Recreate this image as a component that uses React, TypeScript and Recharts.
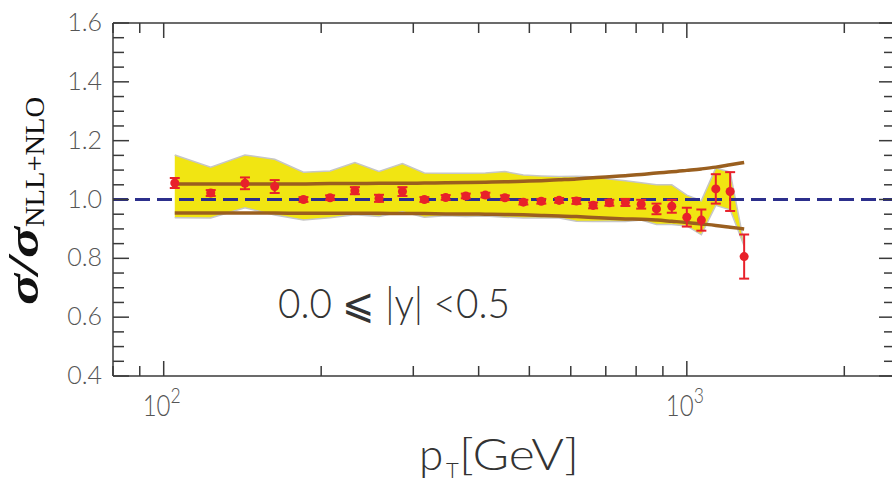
import { ComposedChart, Area, Line, Scatter, ErrorBar, XAxis, YAxis, ReferenceLine } from "recharts";

// pT bin centres [GeV]
const ptBins = [105, 123, 143, 163, 185, 208, 232, 258, 286, 315, 346, 378, 412, 449, 487, 527, 570, 615, 662, 711, 763, 818, 875, 936, 1000, 1066, 1136, 1210, 1287];
// data / theory ratio and stat. errors
const ratio = [1.056, 1.022, 1.055, 1.044, 1.0, 1.006, 1.03, 1.004, 1.027, 1.0, 1.007, 1.012, 1.015, 1.006, 0.991, 0.994, 0.997, 0.995, 0.98, 0.989, 0.99, 0.984, 0.968, 0.977, 0.94, 0.93, 1.036, 1.027, 0.806];
const ratioErr = [0.017, 0.01, 0.02, 0.022, 0.008, 0.008, 0.012, 0.012, 0.015, 0.008, 0.008, 0.008, 0.008, 0.008, 0.008, 0.008, 0.008, 0.01, 0.01, 0.01, 0.012, 0.015, 0.018, 0.022, 0.032, 0.036, 0.05, 0.066, 0.075];
// systematic band (yellow)
const bandHigh = [1.151, 1.11, 1.151, 1.137, 1.093, 1.097, 1.126, 1.095, 1.122, 1.09, 1.089, 1.089, 1.09, 1.095, 1.083, 1.08, 1.078, 1.079, 1.077, 1.07, 1.064, 1.057, 1.05, 1.05, 1.015, 0.996, 1.107, 1.093, 0.85];
const bandLow = [0.938, 0.937, 0.972, 0.947, 0.93, 0.938, 0.948, 0.942, 0.958, 0.94, 0.945, 0.942, 0.944, 0.94, 0.937, 0.937, 0.937, 0.926, 0.925, 0.926, 0.925, 0.93, 0.915, 0.915, 0.91, 0.88, 0.98, 0.965, 0.842];
// theory scale uncertainty (brown)
const theoryUp = [1.053, 1.053, 1.053, 1.053, 1.053, 1.054, 1.054, 1.055, 1.055, 1.056, 1.057, 1.058, 1.059, 1.06, 1.062, 1.064, 1.067, 1.07, 1.074, 1.077, 1.081, 1.085, 1.09, 1.094, 1.099, 1.104, 1.11, 1.118, 1.126];
const theoryDown = [0.954, 0.954, 0.954, 0.954, 0.953, 0.953, 0.953, 0.953, 0.952, 0.952, 0.951, 0.951, 0.95, 0.949, 0.948, 0.946, 0.944, 0.942, 0.939, 0.936, 0.934, 0.933, 0.93, 0.926, 0.922, 0.917, 0.912, 0.906, 0.9];

const xTicks = [80, 90, 100, 200, 300, 400, 500, 600, 700, 800, 900, 1000, 2000];
const xMajor = [100, 1000];
const xLabels = ["2", "3"];
const yTicks = [0.4, 0.45, 0.5, 0.55, 0.6, 0.65, 0.7, 0.75, 0.8, 0.85, 0.9, 0.95, 1.0, 1.05, 1.1, 1.15, 1.2, 1.25, 1.3, 1.35, 1.4, 1.45, 1.5, 1.55, 1.6];
const yLabels = ["0.4", "0.6", "0.8", "1.0", "1.2", "1.4", "1.6"];

const data = ptBins.map((pt, i) => ({
  pt,
  ratio: ratio[i],
  err: ratioErr[i],
  band: [bandLow[i], bandHigh[i]],
  up: theoryUp[i],
  dn: theoryDown[i],
}));

const axisColor = "#3a3a3a";
const labelColor = "#555";
const font = "Lato, 'DejaVu Sans', sans-serif";
const serif = "'Liberation Serif', serif";

const BottomTick = (props: any) => {
  const { x, y, payload } = props;
  const idx = xMajor.indexOf(payload.value);
  const major = idx >= 0;
  return (
    <g>
      <line x1={x} x2={x} y1={y} y2={y - (major ? 15 : 10)} stroke={axisColor} strokeWidth={1.5} />
      {major && (
        <text x={x - 21} y={y + 40} fill={labelColor} fontFamily={font} fontWeight={300} fontSize={30} textLength={38} lengthAdjust="spacingAndGlyphs">
          10<tspan dy={-13} fontSize={22}>{xLabels[idx]}</tspan>
        </text>
      )}
    </g>
  );
};

const TopTick = (props: any) => {
  const { x, y, payload } = props;
  const major = xMajor.includes(payload.value);
  return <line x1={x} x2={x} y1={y} y2={y + (major ? 15 : 10)} stroke={axisColor} strokeWidth={1.5} />;
};

const LeftTick = (props: any) => {
  const { x, y, payload } = props;
  const lab = payload.value.toFixed(1);
  const major = Math.round(payload.value * 100) % 20 === 0;
  return (
    <g>
      <line x1={x} x2={x + (major ? 16 : 11)} y1={y} y2={y} stroke={axisColor} strokeWidth={1.5} />
      {major && yLabels.includes(lab) && (
        <text x={x - 11} y={y} dy="0.32em" textAnchor="end" fill={labelColor} fontFamily={font} fontWeight={300} fontSize={25}>
          {lab}
        </text>
      )}
    </g>
  );
};

const RightTick = (props: any) => {
  const { x, y, payload } = props;
  const major = Math.round(payload.value * 100) % 20 === 0;
  return <line x1={x} x2={x - (major ? 16 : 11)} y1={y} y2={y} stroke={axisColor} strokeWidth={1.5} />;
};

export default function App() {
  return (
    <div style={{ position: "absolute", left: 0, top: 0, width: 892, height: 481, overflow: "hidden", background: "#fff" }}>
      <ComposedChart width={900} height={481} data={data} margin={{ top: 22, right: 4, bottom: 0, left: 0 }}>
        <XAxis xAxisId="b" dataKey="pt" type="number" scale="log" domain={[80, 2500]} allowDataOverflow ticks={xTicks} interval={0}
          tickSize={0} tickMargin={0} tick={<BottomTick />} height={105} axisLine={{ stroke: axisColor, strokeWidth: 1.5 }} />
        <XAxis xAxisId="t" orientation="top" dataKey="pt" type="number" scale="log" domain={[80, 2500]} allowDataOverflow ticks={xTicks} interval={0}
          tickSize={0} tickMargin={0} tick={<TopTick />} height={1} axisLine={{ stroke: axisColor, strokeWidth: 1.5 }} />
        <YAxis yAxisId="l" type="number" domain={[0.4, 1.6]} allowDataOverflow ticks={yTicks} interval={0} width={113}
          tickSize={0} tickMargin={0} tick={<LeftTick />} axisLine={{ stroke: axisColor, strokeWidth: 1.5 }} />
        <YAxis yAxisId="r" orientation="right" type="number" domain={[0.4, 1.6]} allowDataOverflow ticks={yTicks} interval={0} width={1}
          tickSize={0} tickMargin={0} tick={<RightTick />} axisLine={{ stroke: axisColor, strokeWidth: 1.5 }} />
        <Area xAxisId="b" yAxisId="l" dataKey="band" type="linear" fill="#f1e512" fillOpacity={1} stroke="#c6c6c6" strokeWidth={1.5} isAnimationActive={false} />
        <Line xAxisId="b" yAxisId="l" dataKey="up" type="monotone" stroke="#9a5f1f" strokeWidth={3.5} dot={false} isAnimationActive={false} />
        <Line xAxisId="b" yAxisId="l" dataKey="dn" type="monotone" stroke="#9a5f1f" strokeWidth={3.5} dot={false} isAnimationActive={false} />
        <ReferenceLine xAxisId="b" yAxisId="l" y={1} stroke="#2c2f8c" strokeWidth={3} strokeDasharray="15 7" />
        <Scatter xAxisId="b" yAxisId="l" dataKey="ratio" fill="#e8212a" isAnimationActive={false}>
          <ErrorBar dataKey="err" direction="y" width={5} stroke="#e8212a" strokeWidth={2} />
        </Scatter>
      </ComposedChart>
      <svg width={892} height={481} style={{ position: "absolute", left: 0, top: 0, pointerEvents: "none" }}>
        <text x={394} y={318} textAnchor="middle" fill="#333" fontFamily={font} fontWeight={300} fontSize={42} textLength={232} lengthAdjust="spacingAndGlyphs">
          0.0 ⩽ |y| &lt;0.5
        </text>
        <text x={419} y={470} fill="#333" fontFamily={font} fontWeight={300} fontSize={44}>p</text>
        <text x={446} y={478} fill="#333" fontFamily={font} fontWeight={300} fontSize={22}>T</text>
        <text x={459} y={470} fill="#333" fontFamily={font} fontWeight={300} fontSize={44} textLength={120} lengthAdjust="spacingAndGlyphs">[GeV]</text>
        <text transform="translate(38,305) rotate(-90)" fill="#111" fontFamily={serif} fontWeight="bold" fontStyle="italic" fontSize={44}
          textLength={78} lengthAdjust="spacingAndGlyphs">σ/σ</text>
        <text transform="translate(44,97) rotate(-90)" textAnchor="end" fill="#111" fontFamily={serif} fontSize={28}
          textLength={130} lengthAdjust="spacingAndGlyphs">NLL+NLO</text>
      </svg>
    </div>
  );
}
